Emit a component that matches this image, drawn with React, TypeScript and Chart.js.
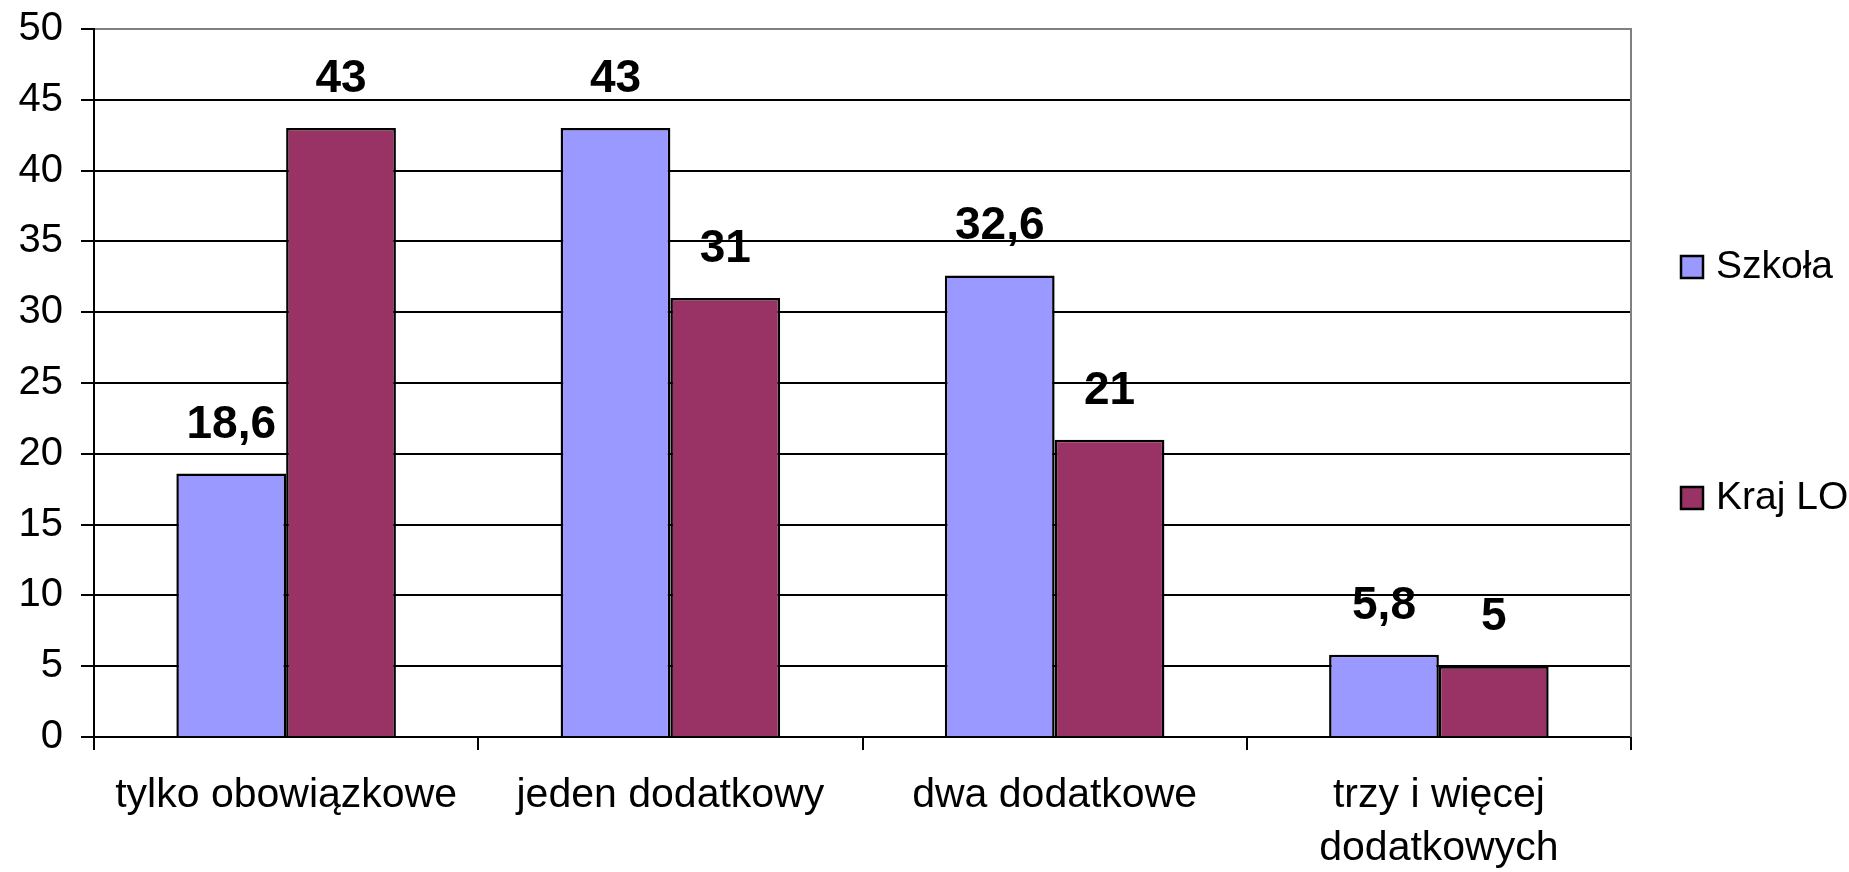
import React, { useEffect, useRef } from 'react';
import { Chart, registerables } from 'chart.js';

Chart.register(...registerables);

const categories: string[][] = [
  ['tylko obowiązkowe'],
  ['jeden dodatkowy'],
  ['dwa dodatkowe'],
  ['trzy i więcej', 'dodatkowych'],
];
const seriesNames = ['Szkoła', 'Kraj LO'];
const szkolaValues = [18.6, 43, 32.6, 5.8];
const krajValues = [43, 31, 21, 5];
const seriesColors = ['#9999FF', '#993366'];
const yMin = 0;
const yMax = 50;
const yStep = 5;

const FONT = "'Liberation Sans', Arial, sans-serif";

const fmt = (v: number) => String(v).replace('.', ',');

const dataLabelPlugin = {
  id: 'dataLabels',
  afterDatasetsDraw(chart: any) {
    const ctx = chart.ctx;
    ctx.save();
    ctx.fillStyle = '#000';
    ctx.font = `bold 46px ${FONT}`;
    ctx.textAlign = 'center';
    ctx.textBaseline = 'alphabetic';
    chart.data.datasets.forEach((ds: any, i: number) => {
      const meta = chart.getDatasetMeta(i);
      meta.data.forEach((el: any, j: number) => {
        ctx.fillText(fmt(ds.data[j]), el.x, el.y - 36);
      });
    });
    ctx.restore();
  },
};

const frameAndLegendPlugin = {
  id: 'frameLegend',
  afterDraw(chart: any) {
    const ctx = chart.ctx;
    const a = chart.chartArea;
    ctx.save();
    ctx.strokeStyle = '#808080';
    ctx.lineWidth = 2;
    ctx.beginPath();
    ctx.moveTo(a.left + 1, a.top);
    ctx.lineTo(a.right, a.top);
    ctx.lineTo(a.right, a.bottom);
    ctx.stroke();

    const mid = (a.top + a.bottom) / 2;
    const centers = [mid - 116, mid + 115];
    ctx.font = `39px ${FONT}`;
    ctx.textAlign = 'left';
    ctx.textBaseline = 'middle';
    chart.data.datasets.forEach((ds: any, i: number) => {
      const cy = centers[i];
      const bx = 1681;
      ctx.fillStyle = ds.backgroundColor;
      ctx.fillRect(bx, cy - 11, 22, 22);
      ctx.strokeStyle = '#000';
      ctx.lineWidth = 2.5;
      ctx.strokeRect(bx, cy - 11, 22, 22);
      ctx.fillStyle = '#000';
      ctx.fillText(ds.label, 1716, cy + 0.5);
    });
    ctx.restore();
  },
};

export default function App() {
  const ref = useRef<HTMLCanvasElement | null>(null);

  useEffect(() => {
    if (!ref.current) return;
    const chart = new Chart(ref.current, {
      type: 'bar',
      data: {
        labels: categories as any,
        datasets: [
          {
            label: seriesNames[0],
            data: szkolaValues,
            backgroundColor: seriesColors[0],
            borderColor: '#000',
            borderWidth: 2.5,
            categoryPercentage: 0.5714,
            barPercentage: 1,
          },
          {
            label: seriesNames[1],
            data: krajValues,
            backgroundColor: seriesColors[1],
            borderColor: '#000',
            borderWidth: 2.5,
            categoryPercentage: 0.5714,
            barPercentage: 1,
          },
        ],
      },
      options: {
        animation: false,
        responsive: false,
        layout: { padding: { top: 29, right: 218, left: 0, bottom: 0 } },
        plugins: {
          legend: { display: false },
          tooltip: { enabled: false },
        },
        scales: {
          x: {
            grid: {
              display: true,
              drawOnChartArea: false,
              drawTicks: true,
              tickLength: 13,
              color: '#000',
              lineWidth: 2,
              offset: true,
            },
            border: { display: true, color: '#000', width: 2 },
            ticks: {
              color: '#000',
              font: { family: FONT, size: 41, lineHeight: 1.3 },
              padding: 19,
              maxRotation: 0,
              autoSkip: false,
            },
            afterFit: (s: any) => {
              s.height = 135;
              s.paddingLeft = 0;
              s.paddingRight = 0;
            },
          },
          y: {
            min: yMin,
            max: yMax,
            ticks: {
              stepSize: yStep,
              color: '#000',
              font: { family: FONT, size: 40 },
              padding: 18,
            },
            grid: {
              color: '#000',
              lineWidth: 2,
              tickLength: 13,
              drawTicks: true,
            },
            border: { display: true, color: '#000', width: 2 },
            afterFit: (s: any) => {
              s.width = 94;
              s.paddingTop = 0;
              s.paddingBottom = 0;
            },
          },
        },
      },
      plugins: [dataLabelPlugin, frameAndLegendPlugin],
    });
    return () => chart.destroy();
  }, []);

  return (
    <div style={{ position: 'absolute', left: 0, top: 0, width: 1849, height: 872, background: '#fff' }}>
      <canvas ref={ref} width={1849} height={872} style={{ display: 'block' }} />
    </div>
  );
}
